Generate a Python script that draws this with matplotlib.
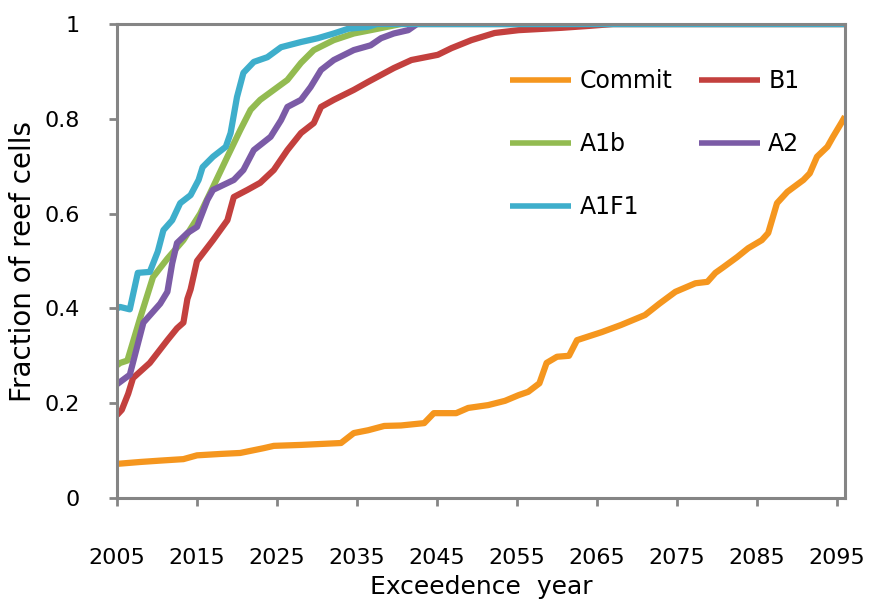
import matplotlib.pyplot as plt

# Datos (anio de excedencia, fraccion de celdas de arrecife)
commit_years = [2005.0, 2007.9, 2010.5, 2013.3, 2015.0, 2018.0, 2020.4, 2023.3, 2024.6,
                2028.0, 2033.0, 2034.6, 2036.4, 2038.4, 2040.5, 2043.4, 2044.6, 2047.4,
                2048.9, 2051.4, 2053.5, 2055.2, 2056.4, 2057.8, 2058.7, 2060.0, 2061.5,
                2062.5, 2065.6, 2068.0, 2071.0, 2072.8, 2074.8, 2077.3, 2078.8, 2079.8,
                2080.8, 2082.5, 2083.9, 2085.6, 2086.4, 2087.5, 2088.8, 2090.8, 2091.6,
                2092.5, 2093.8, 2094.5, 2095.6, 2096.0]
commit_vals = [0.072, 0.076, 0.079, 0.082, 0.090, 0.093, 0.095, 0.105, 0.110,
               0.112, 0.116, 0.137, 0.143, 0.152, 0.153, 0.158, 0.179, 0.179,
               0.190, 0.196, 0.205, 0.217, 0.224, 0.242, 0.285, 0.298, 0.300,
               0.333, 0.350, 0.365, 0.386, 0.410, 0.435, 0.453, 0.456, 0.475,
               0.487, 0.508, 0.527, 0.544, 0.559, 0.622, 0.646, 0.671, 0.685,
               0.720, 0.741, 0.762, 0.793, 0.805]

b1_years = [2005.0, 2005.6, 2006.4, 2007.0, 2009.1, 2011.3, 2012.5, 2013.3, 2013.8,
            2014.2, 2015.0, 2017.0, 2018.8, 2019.6, 2021.3, 2022.9, 2024.6, 2026.3,
            2028.0, 2029.6, 2030.5, 2032.1, 2034.6, 2036.4, 2039.6, 2041.8, 2045.1,
            2046.8, 2049.3, 2052.2, 2055.2, 2060.6, 2064.0, 2067.0, 2096.0]
b1_vals = [0.175, 0.186, 0.220, 0.253, 0.285, 0.333, 0.358, 0.370, 0.420,
           0.440, 0.500, 0.544, 0.586, 0.635, 0.650, 0.665, 0.692, 0.734,
           0.770, 0.791, 0.825, 0.840, 0.861, 0.878, 0.907, 0.924, 0.935,
           0.949, 0.966, 0.981, 0.987, 0.992, 0.996, 1.0, 1.0]

a1b_years = [2005.0, 2005.4, 2006.3, 2007.9, 2009.5, 2011.3, 2013.3, 2015.4, 2017.0,
             2018.8, 2020.4, 2021.7, 2022.9, 2024.6, 2026.3, 2028.0, 2029.6, 2032.1,
             2034.6, 2037.6, 2040.5, 2096.0]
a1b_vals = [0.280, 0.285, 0.290, 0.380, 0.466, 0.505, 0.544, 0.600, 0.656,
            0.720, 0.776, 0.819, 0.840, 0.861, 0.882, 0.918, 0.945, 0.966,
            0.980, 0.990, 1.0, 1.0]

a2_years = [2005.0, 2005.4, 2006.6, 2008.3, 2010.4, 2011.3, 2011.9, 2012.5, 2013.8,
            2015.0, 2016.3, 2017.0, 2019.6, 2020.8, 2022.1, 2024.2, 2025.5, 2026.3,
            2028.0, 2029.2, 2030.5, 2032.1, 2034.6, 2036.7, 2038.0, 2039.6, 2041.4,
            2042.5, 2096.0]
a2_vals = [0.240, 0.245, 0.260, 0.370, 0.410, 0.435, 0.495, 0.538, 0.559,
           0.572, 0.629, 0.650, 0.671, 0.692, 0.734, 0.762, 0.797, 0.825,
           0.840, 0.867, 0.903, 0.924, 0.945, 0.955, 0.970, 0.980, 0.987,
           1.0, 1.0]

a1f1_years = [2005.0, 2005.4, 2006.6, 2007.6, 2009.1, 2010.1, 2010.8, 2011.9, 2012.9,
              2014.2, 2015.2, 2015.7, 2017.0, 2018.6, 2019.2, 2020.0, 2020.8, 2022.1,
              2023.8, 2025.5, 2028.0, 2030.1, 2032.1, 2033.9, 2036.4, 2037.5, 2096.0]
a1f1_vals = [0.400, 0.403, 0.398, 0.475, 0.477, 0.520, 0.565, 0.586, 0.622,
             0.639, 0.671, 0.698, 0.720, 0.741, 0.770, 0.846, 0.897, 0.920,
             0.930, 0.951, 0.962, 0.970, 0.980, 0.990, 0.994, 1.0, 1.0]

series = [
    ("Commit", commit_years, commit_vals, "#F5961E"),
    ("B1", b1_years, b1_vals, "#C3403E"),
    ("A1b", a1b_years, a1b_vals, "#93BB51"),
    ("A2", a2_years, a2_vals, "#7B5BA6"),
    ("A1F1", a1f1_years, a1f1_vals, "#3EAECB"),
]

xticks = [2005, 2015, 2025, 2035, 2045, 2055, 2065, 2075, 2085, 2095]
yticks = [0, 0.2, 0.4, 0.6, 0.8, 1]
ytick_labels = ["0", "0.2", "0.4", "0.6", "0.8", "1"]

plt.rcParams['font.family'] = ['DejaVu Sans']
gris = "#858585"

fig = plt.figure(figsize=(8.74, 6.0), dpi=100)
ax = fig.add_axes([117 / 874, 102 / 600, 728 / 874, 474 / 600])

# Series
lineas = {}
for nombre, xs, ys, color in series:
    lineas[nombre], = ax.plot(xs, ys, color=color, linewidth=4.5, label=nombre,
                              solid_capstyle='butt')

ax.set_xlim(2005, 2096)
ax.set_ylim(0, 1)
ax.set_xticks(xticks)
ax.set_xticklabels([str(t) for t in xticks])
ax.set_yticks(yticks)
ax.set_yticklabels(ytick_labels)

for lado in ax.spines.values():
    lado.set_color(gris)
    lado.set_linewidth(2.2)

ax.tick_params(axis='x', length=6, width=2, color=gris, labelsize=16, pad=30)
ax.tick_params(axis='y', length=6, width=2, color=gris, labelsize=16, pad=21)

ax.set_xlabel("Exceedence  year", fontsize=18, labelpad=5)
ax.set_ylabel("Fraction of reef cells", fontsize=20, labelpad=5)

# Leyenda en dos columnas, llenada por filas
orden = ["Commit", "A1b", "A1F1", "B1", "A2"]
ley = ax.legend([lineas[n] for n in orden], orden, ncol=2, loc='upper left',
                bbox_to_anchor=(510 / 874, 1 - 69 / 600),
                bbox_transform=fig.transFigure, frameon=False, fontsize=17,
                handlelength=2.6, handletextpad=0.35, columnspacing=1.1,
                labelspacing=1.65, borderpad=0, borderaxespad=0)
for linea in ley.get_lines():
    linea.set_linewidth(4)

fig.savefig("out.png", dpi=100)
